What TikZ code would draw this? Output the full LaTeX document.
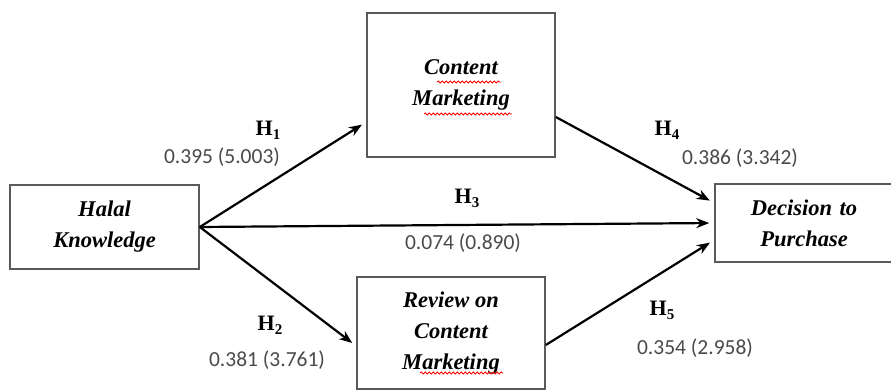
\documentclass[tikz,border=0pt]{standalone}
\usepackage{fontspec}
\setmainfont{Liberation Serif}
\newfontfamily\numfont{Carlito}
\usetikzlibrary{arrows.meta,decorations.pathmorphing}
\definecolor{boxline}{HTML}{5A5A5A}
\definecolor{numgray}{HTML}{4A4A4A}
\tikzset{
  box/.style={draw=boxline,line width=1.6pt,fill=white,align=center,inner sep=0pt,
    font=\fontsize{22.5}{31}\selectfont\bfseries\itshape},
  path/.style={line width=2.2pt,-{Stealth[length=13pt,width=10pt]},shorten >=5pt},
  hyp/.style={font=\fontsize{22}{22}\selectfont\bfseries,inner sep=0pt},
  coef/.style={font=\fontsize{21.5}{22}\selectfont\numfont,text=numgray,inner sep=0pt},
  squig/.style={draw=red,line width=0.8pt,decorate,decoration={snake,segment length=4pt,amplitude=1pt}}
}
\newcommand{\hyplabel}[1]{H\raisebox{-4pt}{\fontsize{15}{15}\selectfont #1}}
\begin{document}
\begin{tikzpicture}[x=1pt,y=-1pt]
\useasboundingbox (0,0) rectangle (891,390);
\begin{scope}
\clip (0,0) rectangle (891,390);
\node[box,minimum width=189pt,minimum height=84pt] (hk) at (104.5,227) {Halal\\Knowledge};
\node[box,minimum width=188pt,minimum height=144pt] (cm) at (461,85) {Content\\Marketing};
\node[box,minimum width=188pt,minimum height=112pt] (rc) at (451,333) {Review on\\Content\\Marketing};
\node[box,minimum width=184pt,minimum height=78pt,text width=176pt] (dp) at (807,223) {\hspace*{-6pt}Decision to\\\hspace*{-6pt}Purchase};

\draw[path] (hk.east) -- ([yshift=-37pt]cm.west);
\draw[path] (hk.east) -- (dp.west);
\draw[path] (hk.east) -- ([yshift=-13pt]rc.west);
\draw[path] ([yshift=-32pt]cm.east) -- ([yshift=20pt]dp.west);
\draw[path] ([yshift=-12pt]rc.east) -- ([yshift=-17pt]dp.west);

\node[hyp] (h1) at (268,130) {\hyplabel{1}};
\node[coef] (c1) at (222,157) {0.395 (5.003)};
\node[hyp] (h4) at (667,130) {\hyplabel{4}};
\node[coef] (c4) at (740,158) {0.386 (3.342)};
\node[hyp] (h3) at (467,198) {\hyplabel{3}};
\node[coef] (c3) at (463,243) {0.074 (0.890)};
\node[hyp] (h2) at (270,325) {\hyplabel{2}};
\node[coef] (c2) at (267,360) {0.381 (3.761)};
\node[hyp] (h5) at (662,310) {\hyplabel{5}};
\node[coef] (c5) at (695,348) {0.354 (2.958)};

\draw[squig] (437,82) -- (501,82);
\draw[squig] (424,114) -- (512,114);
\draw[squig] (420,373) -- (503,373);
\end{scope}
\end{tikzpicture}
\end{document}
